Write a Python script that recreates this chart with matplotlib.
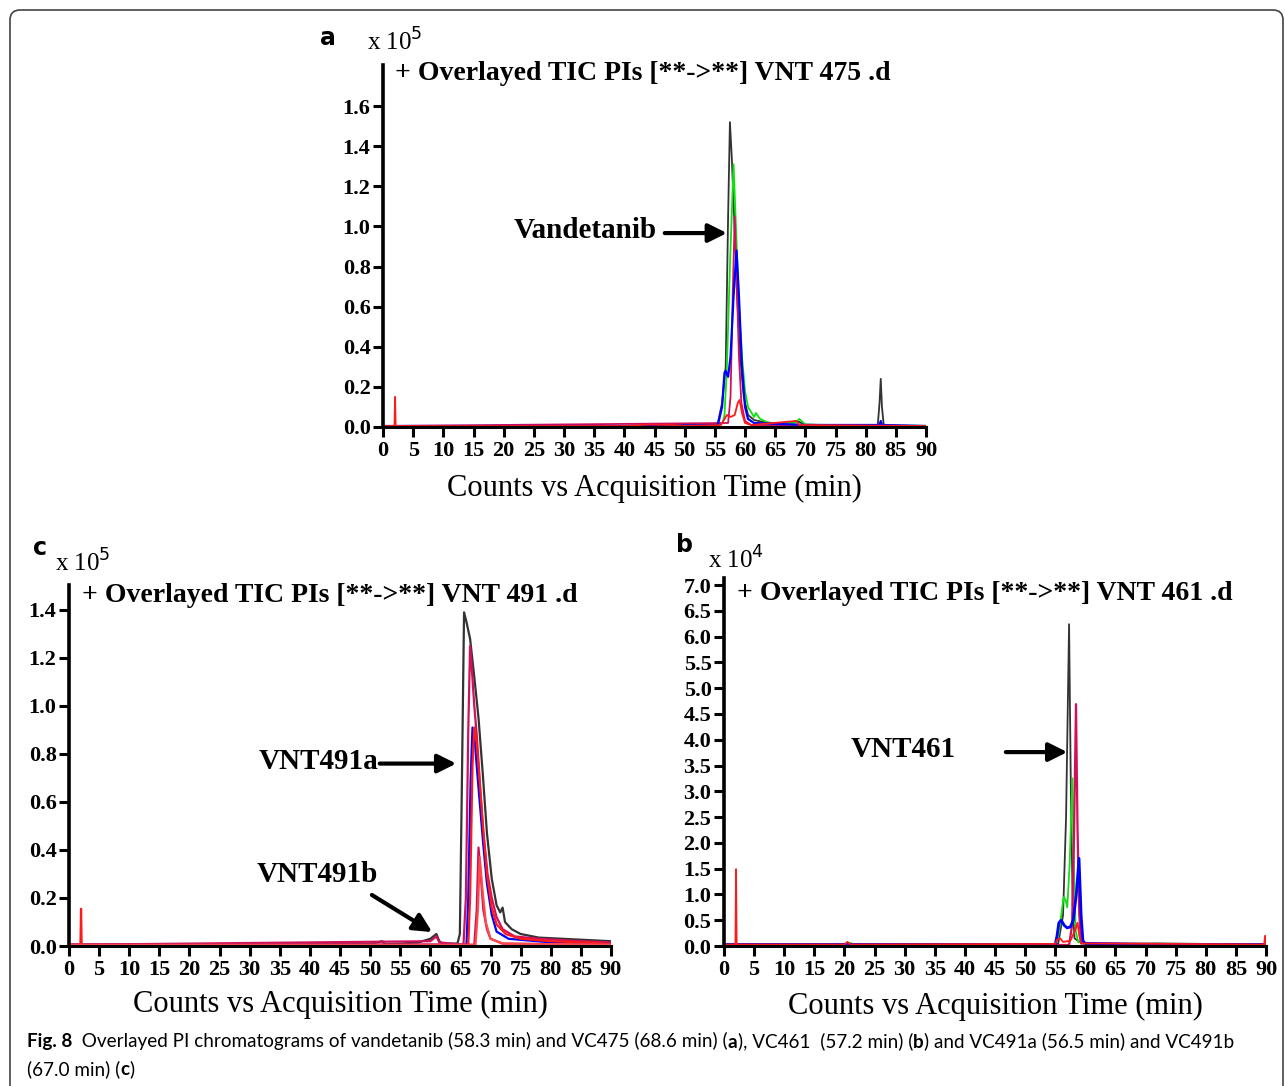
import matplotlib
matplotlib.use('Agg')
import matplotlib.pyplot as plt
import numpy as np
from matplotlib.ticker import MultipleLocator, FormatStrFormatter
from matplotlib.patches import FancyBboxPatch

# ---- panel a: VNT 475 (counts x 10^5) ----
a_black_t = [0, 2, 40, 50, 54, 55.5, 56.2, 56.8, 57.2, 57.5, 57.8, 58.2, 58.7, 59.2, 59.8, 60.5, 61.5, 63, 66, 68.6, 70, 75, 82, 82.3, 82.5, 82.7, 83, 86, 90]
a_black_v = [0.005, 0.005, 0.005, 0.01, 0.01, 0.02, 0.12, 0.3, 1.05, 1.52, 1.35, 1.05, 0.65, 0.35, 0.15, 0.06, 0.035, 0.025, 0.015, 0.03, 0.012, 0.008, 0.008, 0.12, 0.24, 0.1, 0.008, 0.006, 0.005]
a_green_t = [0, 40, 55, 56.3, 56.6, 57.0, 57.5, 58.1, 58.5, 59.0, 59.5, 60.0, 60.5, 61.5, 61.8, 62.5, 64, 68.3, 69, 70, 80, 90]
a_green_v = [0.005, 0.005, 0.008, 0.02, 0.06, 0.3, 0.8, 1.31, 1.0, 0.6, 0.35, 0.18, 0.1, 0.05, 0.07, 0.04, 0.02, 0.02, 0.04, 0.012, 0.008, 0.006]
a_crim_t = [0, 57.2, 57.6, 58.0, 58.3, 58.6, 59.0, 59.4, 60.0, 61, 90]
a_crim_v = [0.005, 0.02, 0.15, 0.7, 1.05, 0.75, 0.35, 0.12, 0.03, 0.01, 0.005]
a_blue_t = [0, 40, 55.5, 56.2, 56.6, 56.8, 57.2, 57.6, 58.1, 58.6, 59.0, 59.5, 60.0, 60.5, 61.5, 70, 82.3, 82.5, 82.7, 90]
a_blue_v = [0.005, 0.005, 0.01, 0.1, 0.27, 0.28, 0.25, 0.35, 0.65, 0.88, 0.65, 0.3, 0.1, 0.04, 0.02, 0.01, 0.01, 0.03, 0.01, 0.005]
a_red_t = [0, 1.9, 2.0, 2.1, 40, 44, 48, 50, 56, 57, 57.6, 58.3, 58.8, 59.1, 59.5, 60, 61, 68.5, 69, 90]
a_red_v = [0.005, 0.005, 0.15, 0.005, 0.005, 0.012, 0.01, 0.006, 0.01, 0.06, 0.05, 0.06, 0.12, 0.135, 0.07, 0.02, 0.01, 0.03, 0.01, 0.005]

# ---- panel c: VNT 491 (counts x 10^5) ----
c_black_t = [0, 50, 52, 52.5, 55, 58, 60, 61, 61.5, 62, 64.5, 64.9, 65.2, 65.6, 66.0, 66.6, 67.3, 68.0, 68.7, 69.4, 70.2, 71, 71.6, 72.0, 72.4, 73.5, 75, 78, 82, 86, 90]
c_black_v = [0.005, 0.008, 0.02, 0.008, 0.01, 0.015, 0.03, 0.05, 0.02, 0.01, 0.01, 0.05, 0.6, 1.39, 1.35, 1.28, 1.12, 0.95, 0.72, 0.47, 0.28, 0.17, 0.14, 0.16, 0.1, 0.07, 0.05, 0.035, 0.03, 0.025, 0.02]
c_crim_t = [0, 60, 61, 61.5, 65.5, 65.9, 66.3, 66.6, 66.9, 67.3, 67.7, 68.3, 68.8, 69.5, 70.2, 71, 72, 74, 78, 85, 90]
c_crim_v = [0.005, 0.02, 0.04, 0.015, 0.005, 0.2, 0.9, 1.25, 1.15, 1.0, 0.88, 0.65, 0.47, 0.3, 0.2, 0.12, 0.07, 0.04, 0.03, 0.02, 0.015]
c_blue_t = [0, 66, 66.3, 66.7, 67.0, 67.4, 67.8, 68.2, 68.8, 69.4, 70.2, 71, 73, 80, 90]
c_blue_v = [0.005, 0.005, 0.2, 0.7, 0.91, 0.85, 0.72, 0.6, 0.42, 0.26, 0.13, 0.06, 0.03, 0.015, 0.01]
c_red_t = [0, 1.9, 2.0, 2.1, 66.3, 66.6, 67.0, 67.3, 67.7, 68.2, 68.8, 69.4, 70.2, 71, 72.5, 75, 80, 90]
c_red_v = [0.005, 0.005, 0.155, 0.005, 0.005, 0.2, 0.75, 0.91, 0.85, 0.68, 0.48, 0.3, 0.16, 0.09, 0.05, 0.03, 0.02, 0.01]
c_crim2_t = [0, 67.3, 67.7, 68.0, 68.3, 68.8, 69.4, 70, 72, 90]
c_crim2_v = [0.005, 0.005, 0.15, 0.41, 0.32, 0.15, 0.07, 0.03, 0.01, 0.005]
c_red2_t = [0, 67.5, 67.9, 68.2, 68.6, 69.2, 70, 72, 90]
c_red2_v = [0.005, 0.005, 0.15, 0.37, 0.25, 0.1, 0.03, 0.01, 0.005]

# ---- panel b: VNT 461 (counts x 10^4) ----
b_black_t = [0, 20, 55, 55.5, 56.3, 56.8, 57.3, 57.6, 57.9, 58.2, 59, 60, 62, 72, 80, 90]
b_black_v = [0.03, 0.03, 0.03, 0.05, 0.6, 2.5, 6.24, 3.0, 0.8, 0.15, 0.08, 0.05, 0.04, 0.05, 0.04, 0.03]
b_crim_t = [0, 57.3, 57.8, 58.1, 58.45, 58.7, 59.0, 59.3, 90]
b_crim_v = [0.02, 0.02, 0.4, 2.0, 4.69, 2.3, 0.6, 0.05, 0.02]
b_green_t = [0, 20.5, 21, 21.5, 55, 55.5, 56.0, 56.4, 56.7, 57.0, 57.4, 57.85, 58.1, 58.4, 58.8, 60, 90]
b_green_v = [0.03, 0.03, 0.06, 0.03, 0.03, 0.2, 0.6, 0.95, 0.9, 0.75, 1.6, 3.25, 1.5, 0.3, 0.08, 0.04, 0.03]
b_blue_t = [0, 55, 55.3, 55.6, 56.0, 56.5, 57.0, 57.5, 58.0, 58.5, 58.95, 59.3, 59.6, 60, 70, 90]
b_blue_v = [0.03, 0.03, 0.2, 0.45, 0.5, 0.4, 0.35, 0.37, 0.5, 1.0, 1.7, 0.6, 0.1, 0.05, 0.03, 0.03]
b_red_t = [0, 1.9, 2.0, 2.1, 20, 20.5, 21, 55, 55.3, 55.8, 56.3, 57.5, 58.3, 58.7, 59.0, 59.3, 89.7, 89.85, 90]
b_red_v = [0.03, 0.03, 1.49, 0.03, 0.03, 0.08, 0.03, 0.04, 0.12, 0.15, 0.08, 0.1, 0.3, 0.45, 0.2, 0.05, 0.03, 0.2, 0.03]

titles = ['+ Overlayed TIC PIs [**->**] VNT 475 .d',
          '+ Overlayed TIC PIs [**->**] VNT 491 .d',
          '+ Overlayed TIC PIs [**->**] VNT 461 .d']
xlabel = 'Counts vs Acquisition Time (min)'

BLACK = '#333333'
GREEN = '#10e010'
BLUE = '#0000ff'
RED = '#ff1a1a'
CRIM = '#d0105a'

W, H = 1285, 1086
fig = plt.figure(figsize=(W / 100, H / 100), dpi=100)
serif = 'Liberation Serif'


def px(x, y):
    return x / W, 1 - y / H


def make_axes(left, top, right, bottom, ymax, ystep, ylast):
    ax = fig.add_axes([left / W, 1 - bottom / H, (right - left) / W, (bottom - top) / H])
    ax.set_xlim(0, 90)
    ax.set_ylim(0, ymax)
    for s in ['top', 'right']:
        ax.spines[s].set_visible(False)
    ax.spines['left'].set_linewidth(2.6)
    ax.spines['bottom'].set_linewidth(2.2)
    ax.xaxis.set_major_locator(MultipleLocator(5))
    ax.set_yticks(np.arange(0, ylast + ystep / 2, ystep))
    ax.yaxis.set_major_formatter(FormatStrFormatter('%.1f'))
    ax.tick_params(direction='out', length=7, width=2.2, pad=2)
    ax.tick_params(axis='x', pad=3)
    for lab in ax.get_xticklabels() + ax.get_yticklabels():
        lab.set_fontfamily(serif)
        lab.set_fontweight('bold')
        lab.set_fontsize(16)
    return ax


def trace(ax, t, v, c, lw=1.3):
    ax.plot(t, v, color=c, lw=lw, solid_joinstyle='round')


def arrow(ax, head, tail):
    ax.annotate('', xy=head, xytext=tail,
                arrowprops=dict(arrowstyle='-|>', color='black', lw=3, mutation_scale=28, shrinkA=0, shrinkB=0))


# panel a
ax_a = make_axes(383, 65, 926, 427, 1.805, 0.2, 1.6)
trace(ax_a, a_black_t, a_black_v, BLACK)
trace(ax_a, a_green_t, a_green_v, GREEN)
trace(ax_a, a_crim_t, a_crim_v, CRIM)
trace(ax_a, a_blue_t, a_blue_v, BLUE, 1.6)
trace(ax_a, a_red_t, a_red_v, RED)
arrow(ax_a, (57.0, 0.967), (46.7, 0.967))
ax_a.text(45.4, 0.98, 'Vandetanib', ha='right', va='center', fontfamily=serif, fontweight='bold', fontsize=21)

# panel c
ax_c = make_axes(69, 585, 611, 946, 1.504, 0.2, 1.4)
trace(ax_c, c_black_t, c_black_v, BLACK, 1.6)
trace(ax_c, c_crim_t, c_crim_v, CRIM, 1.6)
trace(ax_c, c_blue_t, c_blue_v, BLUE, 1.6)
trace(ax_c, c_red_t, c_red_v, RED, 1.6)
trace(ax_c, c_crim2_t, c_crim2_v, CRIM, 1.6)
trace(ax_c, c_red2_t, c_red2_v, '#ff4a4a', 1.6)
arrow(ax_c, (64.3, 0.76), (51.6, 0.76))
ax_c.text(51.3, 0.767, 'VNT491a', ha='right', va='center', fontfamily=serif, fontweight='bold', fontsize=21)
arrow(ax_c, (60.3, 0.058), (50.3, 0.2125))
ax_c.text(31.2, 0.296, 'VNT491b', ha='left', va='center', fontfamily=serif, fontweight='bold', fontsize=21)

# panel b
ax_b = make_axes(724, 578, 1266, 946, 7.136, 0.5, 7.0)
trace(ax_b, b_black_t, b_black_v, BLACK)
trace(ax_b, b_green_t, b_green_v, GREEN)
trace(ax_b, b_crim_t, b_crim_v, CRIM, 1.6)
trace(ax_b, b_blue_t, b_blue_v, BLUE, 2.0)
trace(ax_b, b_red_t, b_red_v, RED)
arrow(ax_b, (57.0, 3.76), (46.8, 3.76))
ax_b.text(38.4, 3.82, 'VNT461', ha='right', va='center', fontfamily=serif, fontweight='bold', fontsize=21)

# titles, multipliers, panel letters, axis labels
for (x, y), t in zip([(395, 74), (82, 595), (737, 593)], titles):
    fig.text(*px(x, y), t, ha='left', va='center', fontfamily=serif, fontweight='bold', fontsize=20)
for (x, y), t in zip([(367, 42), (55, 563), (708, 560)], [r'x 10$^5$', r'x 10$^5$', r'x 10$^4$']):
    fig.text(*px(x, y), t, ha='left', va='center', fontfamily=serif, fontsize=18)
for (x, y), t in zip([(320, 38), (33, 548), (676, 545)], ['a', 'c', 'b']):
    fig.text(*px(x, y), t, ha='left', va='center', fontfamily='DejaVu Sans', fontweight='bold', fontsize=17)
for (x, y) in [(654, 488), (340, 1004), (995, 1006)]:
    fig.text(*px(x, y), xlabel, ha='center', va='center', fontfamily=serif, fontsize=22)

# caption, pieces chained one after another
cap_font = 'Lato'
line1 = [('Fig. 8', 'bold'), ('  Overlayed PI chromatograms of vandetanib (58.3 min) and VC475 (68.6 min) (', 'normal'),
         ('a', 'bold'), ('), VC461  (57.2 min) (', 'normal'), ('b', 'bold'),
         (') and VC491a (56.5 min) and VC491b', 'normal')]
line2 = [('(67.0 min) (', 'normal'), ('c', 'bold'), (')', 'normal')]
for (x, y), parts in [((27, 1042), line1), ((27, 1069), line2)]:
    prev = None
    for s, w in parts:
        if prev is None:
            prev = fig.text(*px(x, y), s, ha='left', va='center', fontfamily=cap_font, fontweight=w, fontsize=13.6)
        else:
            prev = ax_a.annotate(s, xy=(1, 0), xycoords=prev, ha='left', va='bottom', fontfamily=cap_font,
                                 fontweight=w, fontsize=13.6, annotation_clip=False)

# rounded frame around the figure
fig.patches.append(FancyBboxPatch((10, -30), W - 12, H - 10 + 30, boxstyle='round,pad=0,rounding_size=10',
                                  transform=None, fill=False, ec='#444444', lw=1.2))

fig.savefig('out.png', dpi=100)
